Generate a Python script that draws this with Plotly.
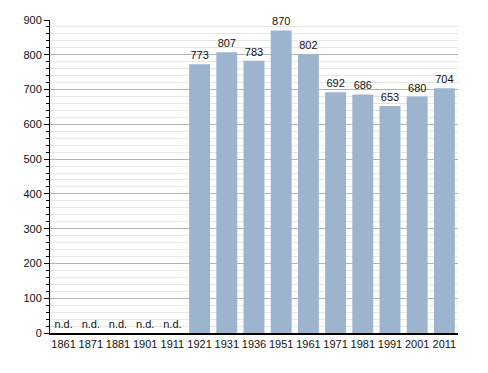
import plotly.graph_objects as go

years = ["1861", "1871", "1881", "1901", "1911", "1921", "1931", "1936", "1951",
         "1961", "1971", "1981", "1991", "2001", "2011"]
population = [None, None, None, None, None, 773, 807, 783, 870, 802, 692, 686, 653, 680, 704]

values = [v if v is not None else 0 for v in population]
labels = [str(v) if v is not None else "n.d." for v in population]

fig = go.Figure(go.Bar(
    x=years, y=values, text=labels, textposition="outside",
    textfont=dict(size=11, color="#111"),
    marker=dict(color="#9cb4cd", line=dict(width=0)),
    cliponaxis=False,
))

fig.update_layout(
    width=488, height=373,
    margin=dict(l=50, r=30, t=20, b=40),
    paper_bgcolor="white", plot_bgcolor="white",
    font=dict(family="Liberation Sans, Arial, sans-serif", size=11, color="#111"),
    bargap=0.23,
    showlegend=False,
)
fig.update_xaxes(
    type="category", showline=True, linecolor="black", linewidth=1.5,
    ticks="", showgrid=False, tickfont=dict(size=11),
)
fig.update_yaxes(
    range=[0, 900], dtick=100, tick0=0, showline=True, linecolor="black", linewidth=1,
    ticks="outside", ticklen=5, tickcolor="black",
    showgrid=True, gridcolor="#b3b3b3", gridwidth=1, zeroline=False,
    minor=dict(dtick=20, ticks="outside", ticklen=3, tickcolor="black",
               showgrid=True, gridcolor="#e6e6e6"),
    tickfont=dict(size=11),
)

fig.write_html("out.html")
